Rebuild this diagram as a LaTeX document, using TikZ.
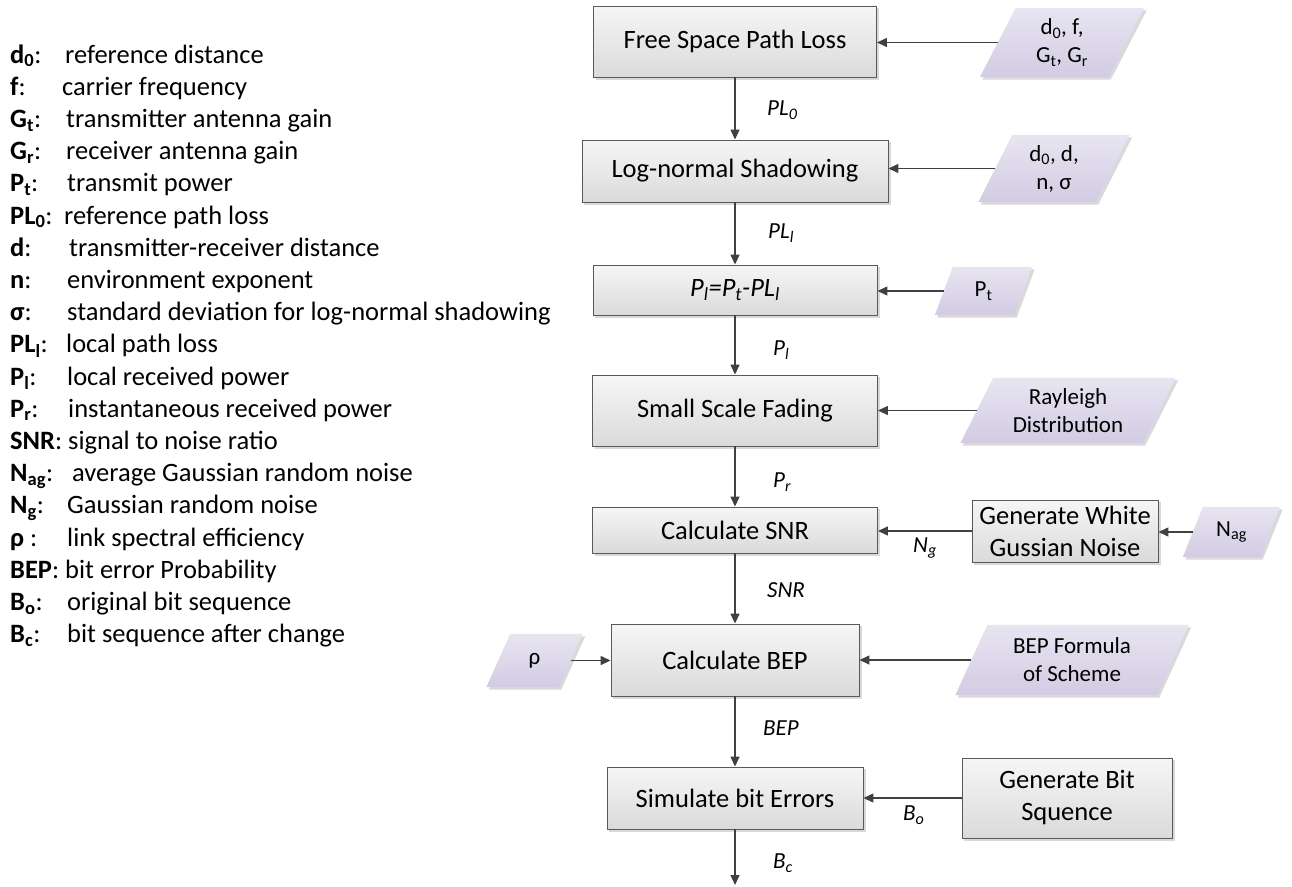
\documentclass[tikz,border=0pt]{standalone}
\usepackage{fontspec}
\setmainfont{Carlito}
\usetikzlibrary{arrows.meta,backgrounds}
\definecolor{boxtop}{HTML}{F6F6F6}
\definecolor{boxbot}{HTML}{DADADA}
\definecolor{boxline}{HTML}{595959}
\definecolor{partop}{HTML}{E8E5F1}
\definecolor{parbot}{HTML}{D2CBE3}
\definecolor{arrcol}{HTML}{404040}
\definecolor{shcol}{HTML}{D9D9D9}
\newcommand\bigf{\fontsize{26.5}{32}\selectfont}
\newcommand\smf{\fontsize{23}{28}\selectfont}
\newcommand\mkpara[2]{%
 \begin{scope}[on background layer]
 \fill[shcol] ([xshift=#2+2.5pt,yshift=-2.5pt]#1.north west) -- ([xshift=#2+2.5pt,yshift=-2.5pt]#1.north east) -- ([xshift=-#2+2.5pt,yshift=-2.5pt]#1.south east) -- ([xshift=-#2+2.5pt,yshift=-2.5pt]#1.south west) -- cycle;
 \shade[top color=partop,bottom color=parbot] ([xshift=#2]#1.north west) -- ([xshift=#2]#1.north east) -- ([xshift=-#2]#1.south east) -- ([xshift=-#2]#1.south west) -- cycle;
 \end{scope}}
\newcommand\mkshad[1]{%
 \begin{scope}[on background layer]
 \fill[shcol] ([shift={(2.5pt,-2.5pt)}]#1.south west) rectangle ([shift={(2.5pt,-2.5pt)}]#1.north east);
 \end{scope}}
\newcommand\legitem[5]{\node[leg] (#1) at (10,#2) {\makebox[\dimexpr#4pt-10pt\relax][l]{#3}#5};}
\begin{document}
\begin{tikzpicture}[x=1pt,y=-1pt,
  box/.style={draw=boxline, line width=0.9pt, top color=boxtop, bottom color=boxbot, inner sep=0pt, align=center, font=\bigf},
  para/.style={inner sep=0pt, align=center, font=\smf},
  arr/.style={draw=arrcol, line width=1.4pt, -{Triangle[length=10pt,width=9pt]}},
  lab/.style={anchor=west, inner sep=0pt, font=\smf\itshape},
  leg/.style={anchor=base west, inner sep=0pt, font=\bigf}]
\useasboundingbox (0,0) rectangle (1292,886);

% main column
\node[box, minimum width=283pt, minimum height=71pt] (b1) at (735,41.5) {Free Space Path Loss};
\node[box, minimum width=306pt, minimum height=62pt] (b2) at (735,171) {Log-normal Shadowing};
\node[box, minimum width=284pt, minimum height=50pt] (b3) at (735,290) {\itshape P\textsubscript{l}=P\textsubscript{t}-PL\textsubscript{l}};
\node[box, minimum width=285pt, minimum height=71pt] (b4) at (735,410.5) {Small Scale Fading};
\node[box, minimum width=285pt, minimum height=46pt] (b5) at (735,530) {Calculate SNR};
\node[box, minimum width=248pt, minimum height=72pt] (b6) at (735,660) {Calculate BEP};
\node[box, minimum width=256pt, minimum height=62pt] (b7) at (735,798) {Simulate bit Errors};
\coordinate (end) at (735,885);

% side boxes
\node[box, minimum width=186pt, minimum height=62pt] (gw) at (1065,531) {Generate White\\Gussian Noise};
\node[box, minimum width=210pt, minimum height=80pt] (gb) at (1067,798) {Generate Bit\\Squence};
\foreach \n in {b1,b2,b3,b4,b5,b6,b7,gw,gb} {\mkshad{\n}}

% parallelograms
\node[para, minimum width=128pt, minimum height=69pt] (p1) at (1062,42.5) {d\textsubscript{0}, f,\\G\textsubscript{t}, G\textsubscript{r}};
\node[para, minimum width=117pt, minimum height=67pt] (p2) at (1054,168.5) {d\textsubscript{0}, d,\\n, σ};
\node[para, minimum width=79pt, minimum height=48pt] (p3) at (983.5,291) {P\textsubscript{t}};
\node[para, minimum width=182pt, minimum height=65pt] (p4) at (1068,410.5) {Rayleigh\\Distribution};
\node[para, minimum width=77pt, minimum height=50pt] (p5) at (1231.5,532) {N\textsubscript{ag}};
\node[para, minimum width=72pt, minimum height=53pt] (p6) at (534.5,660.5) {ρ};
\node[para, minimum width=201pt, minimum height=70pt] (p7) at (1072,660) {BEP Formula\\of Scheme};
\mkpara{p1}{18pt}
\mkpara{p2}{17pt}
\mkpara{p3}{9pt}
\mkpara{p4}{16.5pt}
\mkpara{p5}{10pt}
\mkpara{p6}{12pt}
\mkpara{p7}{16pt}

% vertical arrows
\draw[arr] (b1.south) -- (b1.south |- b2.north);
\draw[arr] (b2.south) -- (b2.south |- b3.north);
\draw[arr] (b3.south) -- (b3.south |- b4.north);
\draw[arr] (b4.south) -- (b4.south |- b5.north);
\draw[arr] (b5.south) -- (b5.south |- b6.north);
\draw[arr] (b6.south) -- (b6.south |- b7.north);
\draw[arr] (b7.south) -- (end);

% horizontal arrows
\draw[arr] (p1.west) -- (p1.west -| b1.east);
\draw[arr] (p2.west) -- (p2.west -| b2.east);
\draw[arr] (p3.west) -- (p3.west -| b3.east);
\draw[arr] (p4.west) -- (p4.west -| b4.east);
\draw[arr] (gw.west) -- (gw.west -| b5.east);
\draw[arr] (p5.west) -- (p5.west -| gw.east);
\draw[arr] (p6.east) -- (p6.east -| b6.west);
\draw[arr] (p7.west) -- (p7.west -| b6.east);
\draw[arr] (gb.west) -- (gb.west -| b7.east);

% arrow labels
\node[lab] (t1) at (767,110) {PL\textsubscript{0}};
\node[lab] (t2) at (768,233) {PL\textsubscript{l}};
\node[lab] (t3) at (773,350) {P\textsubscript{l}};
\node[lab] (t4) at (773,482) {P\textsubscript{r}};
\node[lab] (t5) at (767,590) {SNR};
\node[lab] (t6) at (763,728) {BEP};
\node[lab] (t7) at (773,863) {B\textsubscript{c}};
\node[lab] (t8) at (913,548) {N\textsubscript{g}};
\node[lab] (t9) at (903,815) {B\textsubscript{o}};

% legend
\legitem{l0}{63}{\textbf{d\textsubscript{0}}:}{65}{reference distance}
\legitem{l1}{95.2}{\textbf{f}:}{62}{carrier frequency}
\legitem{l2}{127.4}{\textbf{G\textsubscript{t}}:}{66}{transmitter antenna gain}
\legitem{l3}{159.6}{\textbf{G\textsubscript{r}}:}{66}{receiver antenna gain}
\legitem{l4}{191.8}{\textbf{P\textsubscript{t}}:}{67}{transmit power}
\legitem{l5}{224}{\textbf{PL\textsubscript{0}}:}{64}{reference path loss}
\legitem{l6}{256.2}{\textbf{d}:}{69}{transmitter-receiver distance}
\legitem{l7}{288.4}{\textbf{n}:}{67}{environment exponent}
\legitem{l8}{320.6}{\textbf{σ}:}{67}{standard deviation for log-normal shadowing}
\legitem{l9}{352.8}{\textbf{PL\textsubscript{l}}:}{66}{local path loss}
\legitem{l10}{385}{\textbf{P\textsubscript{l}}:}{67}{local received power}
\legitem{l11}{417.2}{\textbf{P\textsubscript{r}}:}{68}{instantaneous received power}
\node[leg] (l12) at (10,449.4) {\textbf{SNR}: signal to noise ratio};
\legitem{l13}{481.6}{\textbf{N\textsubscript{ag}}:}{72}{average Gaussian random noise}
\legitem{l14}{513.8}{\textbf{N\textsubscript{g}}:}{67}{Gaussian random noise}
\legitem{l15}{546}{\textbf{ρ} :}{67}{link spectral efficiency}
\node[leg] (l16) at (10,578.2) {\textbf{BEP}: bit error Probability};
\legitem{l17}{610.4}{\textbf{B\textsubscript{o}}:}{67}{original bit sequence}
\legitem{l18}{642.6}{\textbf{B\textsubscript{c}}:}{67}{bit sequence after change}
\end{tikzpicture}
\end{document}
